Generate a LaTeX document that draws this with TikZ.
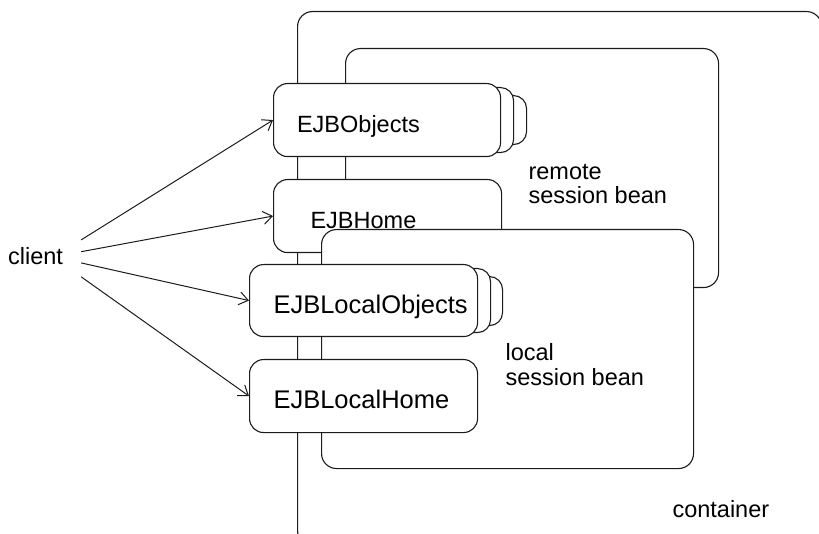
\documentclass[tikz,border=0pt]{standalone}
\usepackage{fontspec}
\setmainfont{Liberation Sans}
\usetikzlibrary{arrows.meta,positioning}
\definecolor{ink}{HTML}{1C1C1C}
\newcommand{\ejbtext}[1]{\makebox[180pt][l]{#1}}

\begin{document}
\begin{tikzpicture}[x=1pt, y=-1pt,
  font=\fontsize{23.5}{24.5}\selectfont,
  beanbox/.style={draw=ink, line width=1.1pt, fill=white, rounded corners=15pt,
                  anchor=north west, inner sep=0pt},
  ejbbox/.style={beanbox, rounded corners=14pt, text height=25pt, text depth=0pt},
  copybox/.style={beanbox, rounded corners=13pt, minimum width=227pt},
  bigtext/.style={font=\fontsize{25.5}{26}\selectfont},
  calllink/.style={draw=ink, line width=1pt, -{Straight Barb[length=9pt,width=13pt]}}]
  \useasboundingbox (0,0) rectangle (819,534);
  \clip (0,0) rectangle (819,534);

  % container and the two beans
  \node[beanbox, minimum width=524pt, minimum height=534pt] (container) at (297,11) {};
  \node[beanbox, minimum width=373pt, minimum height=239pt] (remote) at (345,48) {};
  \node[copybox, minimum height=49pt] (objcopyB) at (299,95) {};
  \node[copybox, minimum height=65pt] (objcopyA) at (286,87) {};
  \node[ejbbox, minimum width=227pt, minimum height=73pt] (objects) at (273,83) {\ejbtext{EJBObjects}};
  \node[ejbbox, minimum width=228pt, minimum height=73pt] (home) at (273,179) {\ejbtext{\hspace*{13pt}EJBHome}};

  \node[beanbox, minimum width=372pt, minimum height=239pt] (local) at (321,229) {};
  \node[copybox, minimum height=49pt] (loccopyB) at (275,276) {};
  \node[copybox, minimum height=64pt] (loccopyA) at (263,268) {};
  \node[ejbbox, bigtext, minimum width=228pt, minimum height=72pt] (localobjects) at (249,264) {\ejbtext{EJBLocalObjects}};
  \node[ejbbox, bigtext, minimum width=228pt, minimum height=73pt] (localhome) at (249,359) {\ejbtext{EJBLocalHome}};

  % labels
  \node[anchor=base west, align=left] (remotelbl) at (525,204) {remote\\session bean};
  \node[anchor=base west, align=left] (locallbl) at (502,385) {local\\session bean};
  \node[anchor=base west] (containerlbl) at (669,517) {container};
  \node[minimum width=91pt, minimum height=41pt, inner sep=0pt] (client) at (35.5,256.5) {client};

  \draw[calllink] (client.20) -- (objects.west);
  \draw[calllink] (client.6) -- (home.west);
  \draw[calllink] (client.-8) -- (localobjects.west);
  \draw[calllink] (client.-24) -- (localhome.west);
\end{tikzpicture}
\end{document}
